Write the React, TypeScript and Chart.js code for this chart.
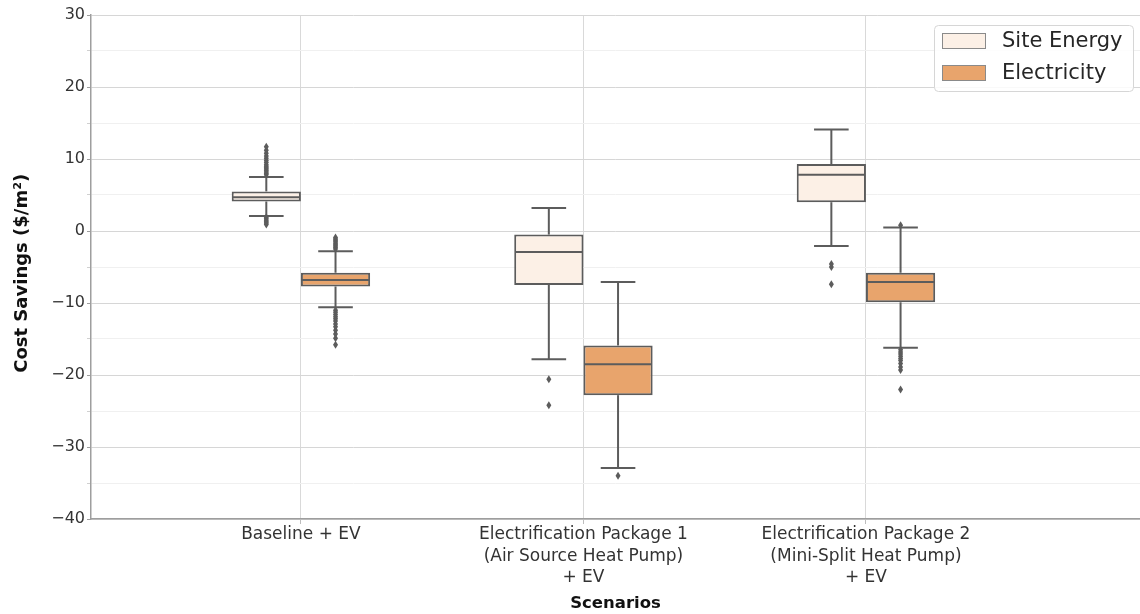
import { useEffect, useRef } from "react";
import { Chart, registerables } from "chart.js";

Chart.register(...registerables);

// ---------- data ----------
const categories: string[][] = [
  ["Baseline + EV"],
  ["Electrification Package 1", "(Air Source Heat Pump)", "+ EV"],
  ["Electrification Package 2", "(Mini-Split Heat Pump)", "+ EV"],
];
const seriesNames = ["Site Energy", "Electricity"];
const xTitle = "Scenarios";
const yTitle = "Cost Savings ($/m\u00b2)";

const siteLow = [2.1, -17.8, -2.1];
const siteQ1 = [4.1, -7.5, 4.0];
const siteMedian = [4.7, -2.9, 7.8];
const siteQ3 = [5.5, -0.5, 9.3];
const siteHigh = [7.5, 3.2, 14.1];
const siteOutliers: number[][] = [
  [7.8, 8.0, 8.2, 8.4, 8.6, 8.8, 9.0, 9.2, 9.5, 9.8, 10.1, 10.4, 10.8, 11.2, 11.7, 1.9, 1.7, 1.5, 1.3, 1.1, 0.9],
  [-20.6, -24.2],
  [-4.6, -5.0, -7.4],
];

const elecLow = [-10.6, -32.9, -16.2];
const elecQ1 = [-7.7, -22.8, -9.9];
const elecMedian = [-6.8, -18.5, -7.1];
const elecQ3 = [-5.8, -15.9, -5.8];
const elecHigh = [-2.8, -7.1, 0.5];
const elecOutliers: number[][] = [
  [-2.5, -2.3, -2.1, -1.9, -1.7, -1.5, -1.3, -1.1, -0.9, -11.0, -11.3, -11.6, -11.9, -12.2, -12.5, -12.9, -13.3, -13.8, -14.3, -14.9, -15.8],
  [-34.0],
  [0.8, -16.5, -16.8, -17.1, -17.4, -17.7, -18.0, -18.4, -18.9, -19.3, -22.0],
];

const yTickValues = [-40, -30, -20, -10, 0, 10, 20, 30];

// ---------- styles ----------
const SITE_FILL = "#fcf0e6";
const ELEC_FILL = "#e8a46c";
const LINE = "#5c5c5c";
const DEJAVU = "'DejaVu Sans', sans-serif";

export default function App() {
  const ref = useRef<HTMLCanvasElement>(null);

  useEffect(() => {
    const canvas = ref.current;
    if (!canvas) return;

    const boxPlugin = {
      id: "boxParts",
      afterDatasetsDraw(chart: any) {
        const c = chart.ctx;
        const ys = chart.scales.y;
        const groups = [
          { ds: 0, low: siteLow, high: siteHigh, med: siteMedian, q1: siteQ1, q3: siteQ3, out: siteOutliers },
          { ds: 1, low: elecLow, high: elecHigh, med: elecMedian, q1: elecQ1, q3: elecQ3, out: elecOutliers },
        ];
        const py = (v: number) => ys.getPixelForValue(v);
        c.save();
        c.setLineDash([]);
        const line = (x1: number, y1: number, x2: number, y2: number) => {
          c.strokeStyle = LINE;
          c.lineWidth = 2;
          c.beginPath();
          c.moveTo(x1, y1);
          c.lineTo(x2, y2);
          c.stroke();
        };
        for (const g of groups) {
          const meta = chart.getDatasetMeta(g.ds);
          meta.data.forEach((bar: any, i: number) => {
            const x = bar.x;
            const width = bar.width;
            const half = width / 2 - 1;
            const cap = width / 4;
            line(x, py(g.q3[i]), x, py(g.high[i]));
            line(x, py(g.q1[i]), x, py(g.low[i]));
            line(x - cap, py(g.high[i]), x + cap, py(g.high[i]));
            line(x - cap, py(g.low[i]), x + cap, py(g.low[i]));
            line(x - half, py(g.med[i]), x + half, py(g.med[i]));
            c.fillStyle = LINE;
            for (const o of g.out[i]) {
              const oy = py(o);
              c.beginPath();
              c.moveTo(x, oy - 4);
              c.lineTo(x + 2.5, oy);
              c.lineTo(x, oy + 4);
              c.lineTo(x - 2.5, oy);
              c.closePath();
              c.fill();
            }
          });
        }
        c.restore();
      },
    };

    // x tick labels and x title
    const xLabelPlugin = {
      id: "xLabels",
      afterDraw(chart: any) {
        const c = chart.ctx;
        const xs = chart.scales.x;
        const base = chart.chartArea.bottom;
        c.save();
        c.fillStyle = "#333";
        c.textAlign = "center";
        c.textBaseline = "middle";
        c.font = `17px ${DEJAVU}`;
        categories.forEach((lines, i) => {
          const cx = xs.getPixelForValue(i);
          lines.forEach((t, k) => {
            c.fillText(t, cx, base + 16 + k * 21.5);
          });
        });
        c.fillStyle = "#111";
        c.font = `bold 16.5px ${DEJAVU}`;
        c.fillText(xTitle, (chart.chartArea.left + chart.chartArea.right) / 2, base + 85);
        c.restore();
      },
    };

    const legendPlugin = {
      id: "customLegend",
      afterDraw(chart: any) {
        const c = chart.ctx;
        const area = chart.chartArea;
        const w = 199;
        const h = 66;
        const x0 = area.right - 7 - w;
        const y0 = area.top + 10;
        c.save();
        c.fillStyle = "rgba(255,255,255,0.85)";
        c.strokeStyle = "#d6d6d6";
        c.lineWidth = 1;
        c.beginPath();
        c.roundRect(x0 + 0.5, y0 + 0.5, w, h, 4);
        c.fill();
        c.stroke();
        const fills = [SITE_FILL, ELEC_FILL];
        seriesNames.forEach((name, i) => {
          const ry = y0 + 8 + i * 32;
          c.fillStyle = fills[i];
          c.fillRect(x0 + 8, ry, 43, 15);
          c.strokeStyle = "#8a8a8a";
          c.lineWidth = 1;
          c.strokeRect(x0 + 8.5, ry + 0.5, 43, 15);
          c.fillStyle = "#262626";
          c.font = `21px ${DEJAVU}`;
          c.textBaseline = "middle";
          c.textAlign = "left";
          c.fillText(name, x0 + 68, ry + 9);
        });
        c.restore();
      },
    };

    const chart = new Chart(canvas, {
      type: "bar",
      data: {
        datasets: [
          {
            label: seriesNames[0],
            data: siteQ1.map((q, i) => ({ x: i, y: [q, siteQ3[i]] })) as any,
            backgroundColor: SITE_FILL,
            borderColor: LINE,
            borderWidth: 2,
            borderSkipped: false,
            categoryPercentage: 0.49,
            barPercentage: 1.0,
          },
          {
            label: seriesNames[1],
            data: elecQ1.map((q, i) => ({ x: i, y: [q, elecQ3[i]] })) as any,
            backgroundColor: ELEC_FILL,
            borderColor: LINE,
            borderWidth: 2,
            borderSkipped: false,
            categoryPercentage: 0.49,
            barPercentage: 1.0,
          },
        ],
      },
      options: {
        animation: false,
        responsive: false,
        maintainAspectRatio: false,
        layout: { padding: { top: 15, right: 0, left: 0, bottom: 0 } },
        plugins: {
          legend: { display: false },
          tooltip: { enabled: false },
        },
        scales: {
          x: {
            type: "linear",
            min: -0.743,
            max: 2.97,
            offset: false,
            afterBuildTicks: (scale: any) => {
              scale.ticks = categories.map((_, i) => ({ value: i }));
            },
            afterFit: (scale: any) => {
              scale.height = 95;
            },
            ticks: {
              display: false,
              autoSkip: false,
            },
            grid: {
              offset: false,
              color: "#d9d9d9",
              lineWidth: 1,
              tickLength: 5,
              tickColor: "#bdbdbd",
            },
            border: { display: true, color: "#9e9e9e", width: 1.5 },
          },
          y: {
            type: "linear",
            min: -40,
            max: 30,
            afterBuildTicks: (scale: any) => {
              const t: any[] = [];
              for (let v = -40; v <= 30; v += 5) t.push({ value: v });
              scale.ticks = t;
            },
            afterFit: (scale: any) => {
              scale.width = 91;
            },
            ticks: {
              autoSkip: false,
              padding: 2,
              color: "#333",
              font: { family: DEJAVU, size: 16 },
              callback: (v: any) =>
                yTickValues.includes(Number(v)) ? String(v).replace("-", "\u2212") : "",
            },
            grid: {
              color: (ctx: any) => (ctx.tick && ctx.tick.value % 10 === 0 ? "#d6d6d6" : "#f0f0f0"),
              lineWidth: 1,
              tickLength: 4,
              tickColor: (ctx: any) => (ctx.tick && ctx.tick.value % 10 === 0 ? "#9e9e9e" : "#d0d0d0"),
            },
            border: { display: true, color: "#9e9e9e", width: 1.5 },
            title: {
              display: true,
              text: yTitle + "  ",
              color: "#111",
              font: { family: DEJAVU, size: 18, weight: "bold" },
              padding: { top: 12, bottom: 0 },
            },
          },
        },
      },
      plugins: [boxPlugin, xLabelPlugin, legendPlugin],
    });

    return () => chart.destroy();
  }, []);

  return (
    <div style={{ position: "fixed", left: 0, top: 0, width: 1140, height: 614, background: "#fff" }}>
      <canvas ref={ref} width={1140} height={614} style={{ width: 1140, height: 614, display: "block" }} />
    </div>
  );
}
